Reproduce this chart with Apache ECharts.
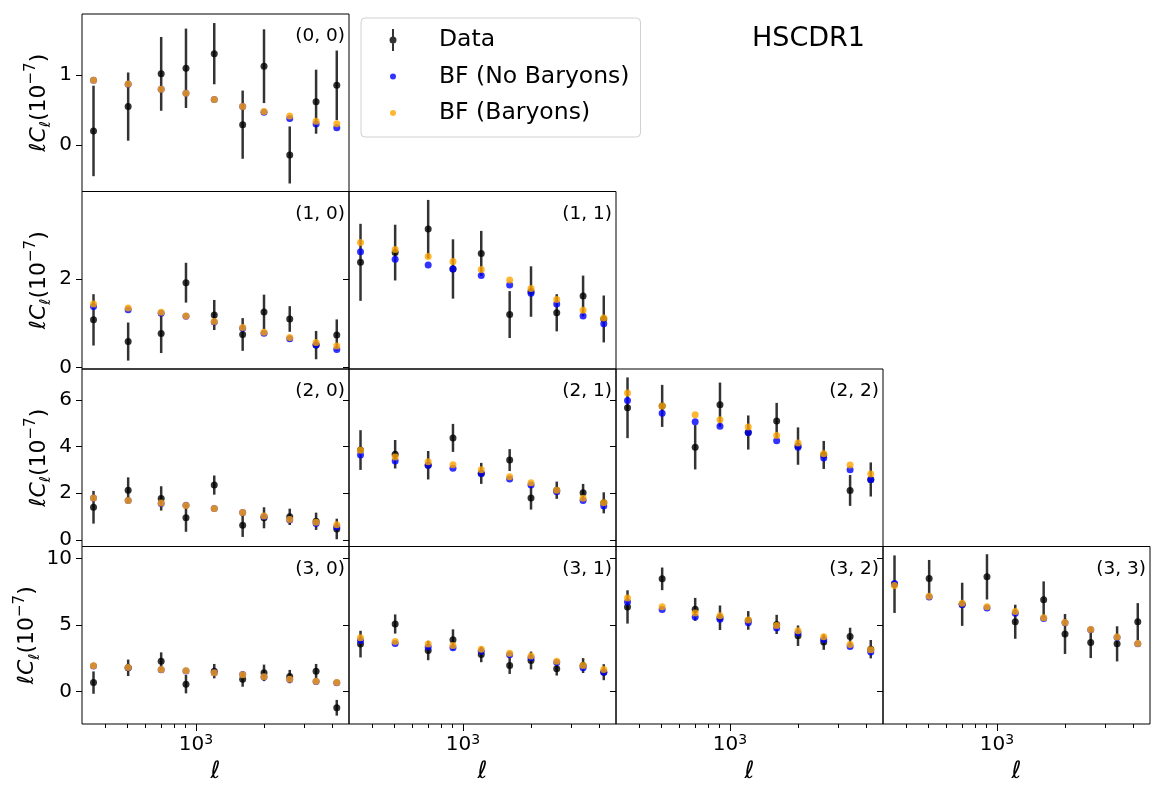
<!DOCTYPE html>
<html>
<head>
<meta charset="utf-8">
<script src="https://cdn.jsdelivr.net/npm/echarts@6/dist/echarts.min.js"></script>
<style>
html, body { margin: 0; padding: 0; background: #fff; }
#chart { width: 1153px; height: 787px; }
</style>
</head>
<body>
<div id="chart"></div>
<script>
// multipole centres (ell) of the 10 bandpowers
var ells = [354, 503, 703, 904, 1204, 1606, 1994, 2588, 3381, 4170];

// ell*C_ell in units of 1e-7 : data, 1-sigma error, best fit without / with baryons
var data00 = [0.20, 0.55, 1.02, 1.10, 1.31, 0.29, 1.13, -0.145, 0.62, 0.855];
var err00 = [0.65, 0.49, 0.53, 0.57, 0.44, 0.49, 0.53, 0.41, 0.46, 0.50];
var noBar00 = [0.93, 0.87, 0.80, 0.74, 0.65, 0.55, 0.47, 0.38, 0.30, 0.245];
var bar00 = [0.93, 0.875, 0.80, 0.74, 0.65, 0.55, 0.48, 0.415, 0.34, 0.305];

var data10 = [1.08, 0.59, 0.77, 1.92, 1.19, 0.75, 1.26, 1.10, 0.51, 0.74];
var err10 = [0.58, 0.43, 0.44, 0.45, 0.34, 0.37, 0.39, 0.29, 0.32, 0.35];
var noBar10 = [1.38, 1.31, 1.23, 1.16, 1.03, 0.89, 0.78, 0.655, 0.51, 0.41];
var bar10 = [1.44, 1.35, 1.25, 1.17, 1.045, 0.91, 0.80, 0.68, 0.57, 0.49];

var data11 = [2.38, 2.60, 3.13, 2.23, 2.58, 1.20, 1.72, 1.24, 1.62, 1.10];
var err11 = [0.87, 0.63, 0.66, 0.67, 0.51, 0.53, 0.57, 0.42, 0.46, 0.53];
var noBar11 = [2.62, 2.45, 2.32, 2.23, 2.08, 1.865, 1.68, 1.44, 1.17, 0.99];
var bar11 = [2.83, 2.67, 2.51, 2.40, 2.22, 1.98, 1.79, 1.54, 1.30, 1.12];

var data20 = [1.40, 2.13, 1.78, 0.95, 2.35, 0.63, 0.95, 0.99, 0.80, 0.47];
var err20 = [0.70, 0.55, 0.52, 0.60, 0.41, 0.50, 0.45, 0.35, 0.37, 0.44];
var noBar20 = [1.80, 1.69, 1.56, 1.49, 1.35, 1.18, 1.00, 0.85, 0.70, 0.55];
var bar20 = [1.80, 1.69, 1.58, 1.48, 1.35, 1.18, 1.03, 0.88, 0.76, 0.65];

var data21 = [3.85, 3.67, 3.20, 4.37, 2.85, 3.42, 1.80, 2.13, 2.02, 1.59];
var err21 = [0.85, 0.61, 0.61, 0.60, 0.45, 0.47, 0.50, 0.37, 0.38, 0.45];
var noBar21 = [3.64, 3.38, 3.20, 3.07, 2.85, 2.61, 2.35, 2.06, 1.69, 1.45];
var bar21 = [3.84, 3.55, 3.35, 3.22, 3.01, 2.71, 2.45, 2.13, 1.79, 1.59];

var data22 = [5.66, 5.74, 3.97, 5.79, 4.60, 5.09, 4.02, 3.64, 2.12, 2.59];
var err22 = [1.30, 0.90, 0.95, 0.95, 0.73, 0.78, 0.80, 0.60, 0.66, 0.73];
var noBar22 = [5.97, 5.43, 5.06, 4.87, 4.60, 4.25, 3.97, 3.51, 3.01, 2.58];
var bar22 = [6.29, 5.74, 5.36, 5.15, 4.84, 4.47, 4.15, 3.69, 3.21, 2.82];

var data30 = [0.68, 1.79, 2.29, 0.56, 1.54, 0.93, 1.41, 1.13, 1.54, -1.21];
var err30 = [0.84, 0.62, 0.66, 0.69, 0.54, 0.56, 0.62, 0.50, 0.54, 0.59];
var noBar30 = [1.93, 1.80, 1.65, 1.55, 1.42, 1.28, 1.10, 0.92, 0.77, 0.66];
var bar30 = [1.94, 1.81, 1.66, 1.56, 1.41, 1.26, 1.11, 0.93, 0.78, 0.68];

var data31 = [3.57, 5.08, 3.09, 3.90, 2.79, 1.96, 2.34, 1.71, 1.96, 1.46];
var err31 = [1.00, 0.72, 0.73, 0.78, 0.58, 0.63, 0.67, 0.50, 0.56, 0.60];
var noBar31 = [3.84, 3.62, 3.35, 3.29, 3.04, 2.77, 2.54, 2.19, 1.79, 1.46];
var bar31 = [4.05, 3.77, 3.57, 3.47, 3.19, 2.89, 2.67, 2.29, 1.96, 1.66];

var data32 = [6.36, 8.47, 6.18, 5.55, 5.35, 5.05, 4.20, 3.72, 4.14, 3.19];
var err32 = [1.25, 0.85, 0.86, 0.92, 0.70, 0.72, 0.77, 0.58, 0.66, 0.69];
var noBar32 = [6.74, 6.16, 5.61, 5.43, 5.18, 4.78, 4.40, 3.92, 3.39, 2.97];
var bar32 = [7.04, 6.38, 5.91, 5.70, 5.38, 4.97, 4.57, 4.12, 3.54, 3.14];

var data33 = [8.07, 8.49, 6.56, 8.62, 5.25, 6.91, 4.33, 3.69, 3.59, 5.25];
var err33 = [2.16, 1.40, 1.62, 1.70, 1.28, 1.37, 1.50, 1.17, 1.32, 1.40];
var noBar33 = [8.12, 7.11, 6.53, 6.28, 5.88, 5.50, 5.17, 4.64, 4.07, 3.60];
var bar33 = [7.97, 7.16, 6.63, 6.38, 6.01, 5.55, 5.20, 4.67, 4.10, 3.62];

// axes
var xMin = 315, xMax = 4720;
var xMajorTicks = [1000];
var xMinorTicks = [400, 500, 600, 700, 800, 900, 2000, 3000, 4000];
var rowYMin = [-0.67, -0.03, -0.28, -2.43];
var rowYMax = [1.88, 3.98, 7.32, 10.9];
var rowYTicks = [[0, 1], [0, 2], [0, 2, 4, 6], [0, 5, 10]];

var panels = [
  {row: 0, col: 0, data: data00, err: err00, noBar: noBar00, bar: bar00},
  {row: 1, col: 0, data: data10, err: err10, noBar: noBar10, bar: bar10},
  {row: 1, col: 1, data: data11, err: err11, noBar: noBar11, bar: bar11},
  {row: 2, col: 0, data: data20, err: err20, noBar: noBar20, bar: bar20},
  {row: 2, col: 1, data: data21, err: err21, noBar: noBar21, bar: bar21},
  {row: 2, col: 2, data: data22, err: err22, noBar: noBar22, bar: bar22},
  {row: 3, col: 0, data: data30, err: err30, noBar: noBar30, bar: bar30},
  {row: 3, col: 1, data: data31, err: err31, noBar: noBar31, bar: bar31},
  {row: 3, col: 2, data: data32, err: err32, noBar: noBar32, bar: bar32},
  {row: 3, col: 3, data: data33, err: err33, noBar: noBar33, bar: bar33}
];

var font = 'DejaVu Sans';
var cellLeft = 82, cellW = 267, cellTop = 14, cellH = 177.5;

function errorBar(params, api) {
  var x = api.value(0), y = api.value(1), e = api.value(2);
  var hi = api.coord([x, y + e]);
  var lo = api.coord([x, y - e]);
  return {
    type: 'line',
    shape: {x1: hi[0], y1: hi[1], x2: lo[0], y2: lo[1]},
    style: {stroke: 'rgba(0,0,0,0.8)', lineWidth: 2.5}
  };
}

var grids = [], xAxes = [], yAxes = [], series = [];
var titles = [{
  text: 'HSCDR1', left: 752, top: 25, padding: 0,
  textStyle: {fontFamily: font, fontSize: 27, fontWeight: 'normal', color: '#000'}
}];

panels.forEach(function (p, k) {
  var left = cellLeft + p.col * cellW;
  var top = cellTop + p.row * cellH;
  var bottomRow = p.row === 3;
  grids.push({
    left: left, top: top, width: cellW, height: cellH,
    show: true, borderColor: '#000', borderWidth: 1,
    containLabel: false, outerBoundsMode: 'none'
  });

  var xi = xAxes.length;
  xAxes.push({
    type: 'log', logBase: 10, gridIndex: k, position: 'bottom',
    min: xMin, max: xMax,
    axisLine: {show: false, onZero: false}, splitLine: {show: false},
    axisTick: {show: bottomRow, customValues: xMajorTicks, length: 7, lineStyle: {color: '#000', width: 1}},
    axisLabel: {
      show: bottomRow, customValues: xMajorTicks, margin: 9,
      formatter: function () { return '{b|10}{s|3}'; },
      rich: {
        b: {fontFamily: font, fontSize: 20, color: '#000', lineHeight: 24},
        s: {fontFamily: font, fontSize: 14, color: '#000', lineHeight: 12, verticalAlign: 'top'}
      }
    },
    name: bottomRow ? '\u2113' : '', nameLocation: 'middle', nameGap: 36,
    nameTextStyle: {fontFamily: font, fontSize: 24, fontStyle: 'italic', color: '#000', lineHeight: 24}
  });
  if (bottomRow) {
    xAxes.push({
      type: 'log', logBase: 10, gridIndex: k, position: 'bottom',
      min: xMin, max: xMax,
      axisLine: {show: false, onZero: false}, splitLine: {show: false},
      axisTick: {show: true, customValues: xMinorTicks, length: 4, lineStyle: {color: '#000', width: 1}},
      axisLabel: {show: false}
    });
  }

  yAxes.push({
    type: 'value', gridIndex: k,
    min: rowYMin[p.row], max: rowYMax[p.row],
    axisLine: {show: false, onZero: false}, splitLine: {show: false},
    axisTick: {show: true, customValues: rowYTicks[p.row], length: 6, lineStyle: {color: '#000', width: 1}},
    axisLabel: {
      show: p.col === 0, customValues: rowYTicks[p.row], margin: 10,
      fontFamily: font, fontSize: 20, color: '#000'
    },
    name: p.col === 0 ? '{i|\u2113C}{sub|\u2113}{n|(10}{sup|\u22127}{n|)}' : '',
    nameLocation: 'middle', nameRotate: 90, nameGap: 28,
    nameTextStyle: {
      rich: {
        i: {fontFamily: font, fontSize: 22, fontStyle: 'italic', color: '#000', lineHeight: 30},
        n: {fontFamily: font, fontSize: 22, color: '#000', lineHeight: 30},
        sub: {fontFamily: font, fontSize: 15, fontStyle: 'italic', color: '#000', lineHeight: 14, verticalAlign: 'bottom'},
        sup: {fontFamily: font, fontSize: 15, color: '#000', lineHeight: 14, verticalAlign: 'top'}
      }
    }
  });

  titles.push({
    text: '(' + p.row + ', ' + p.col + ')',
    right: 1153 - (left + cellW) + 4, top: top + 13, padding: 0,
    textStyle: {fontFamily: font, fontSize: 18.5, fontWeight: 'normal', color: '#000'}
  });

  series.push({
    type: 'custom', name: 'Data error', xAxisIndex: xi, yAxisIndex: k, z: 1, silent: true,
    renderItem: errorBar, encode: {x: 0, y: 1},
    data: ells.map(function (l, i) { return [l, p.data[i], p.err[i]]; })
  });
  series.push({
    type: 'scatter', name: 'Data', xAxisIndex: xi, yAxisIndex: k, z: 2,
    symbolSize: 7, itemStyle: {color: '#000', opacity: 0.8},
    data: ells.map(function (l, i) { return [l, p.data[i]]; })
  });
  series.push({
    type: 'scatter', name: 'BF (No Baryons)', xAxisIndex: xi, yAxisIndex: k, z: 3,
    symbolSize: 7, itemStyle: {color: '#0000ff', opacity: 0.8},
    data: ells.map(function (l, i) { return [l, p.noBar[i]]; })
  });
  series.push({
    type: 'scatter', name: 'BF (Baryons)', xAxisIndex: xi, yAxisIndex: k, z: 4,
    symbolSize: 7, itemStyle: {color: '#ffa500', opacity: 0.8},
    data: ells.map(function (l, i) { return [l, p.bar[i]]; })
  });
});

var dotIcon = 'path://M0,0M52,22M11,8A3,3,0,1,1,11,14A3,3,0,1,1,11,8Z';
var dataIcon = 'path://M0,0M52,22M10,0L12,0L12,22L10,22ZM11,7.5A3.5,3.5,0,1,1,11,14.5A3.5,3.5,0,1,1,11,7.5Z';

var chart = echarts.init(document.getElementById('chart'), null, {renderer: 'canvas'});
chart.setOption({
  animation: false,
  backgroundColor: '#fff',
  title: titles,
  legend: {
    orient: 'vertical', left: 361, top: 18,
    padding: [10, 11, 12, 21],
    itemWidth: 52, itemHeight: 22, itemGap: 12.5,
    borderColor: '#d0d0d0', borderWidth: 1, borderRadius: 4,
    backgroundColor: 'rgba(255,255,255,0.8)',
    selectedMode: false,
    textStyle: {fontFamily: font, fontSize: 23.5, color: '#000', lineHeight: 22},
    data: [
      {name: 'Data', icon: dataIcon},
      {name: 'BF (No Baryons)', icon: dotIcon},
      {name: 'BF (Baryons)', icon: dotIcon}
    ]
  },
  grid: grids,
  xAxis: xAxes,
  yAxis: yAxes,
  series: series
});
</script>
</body>
</html>
